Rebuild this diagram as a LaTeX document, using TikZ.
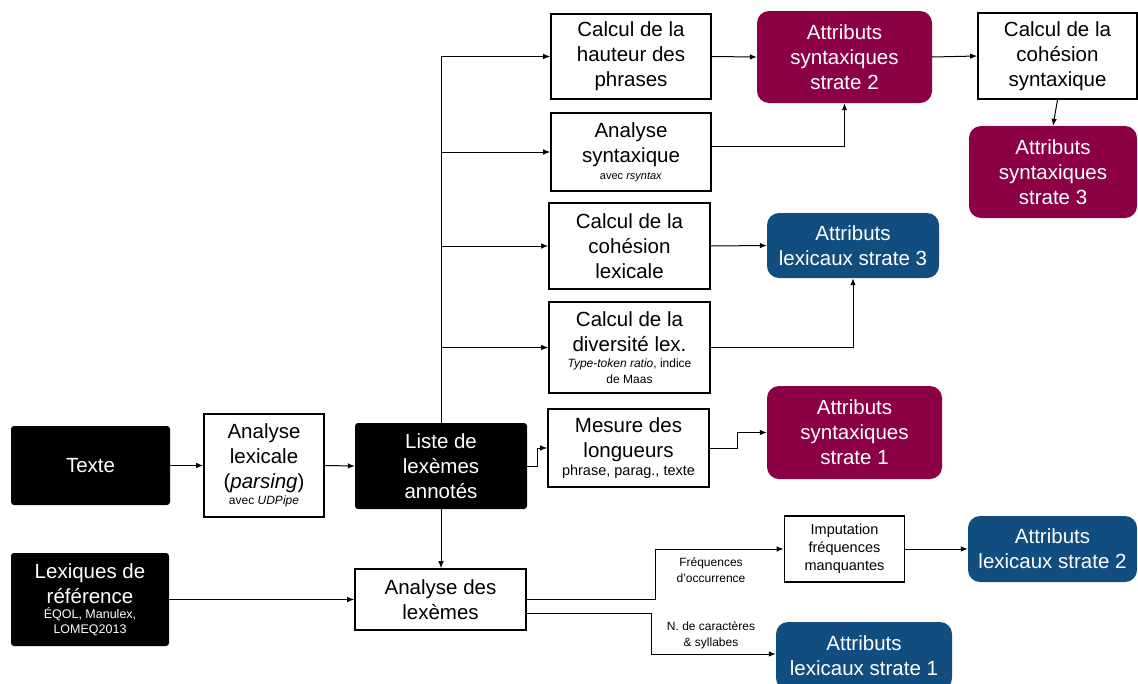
\documentclass[tikz,border=0pt]{standalone}
\usepackage{fontspec}
\setmainfont{Liberation Sans}
\usetikzlibrary{arrows.meta}
\definecolor{crim}{RGB}{140,0,70}
\definecolor{navy}{RGB}{18,77,128}
\newcommand{\bigtxt}{\fontsize{20.5}{25}\selectfont}
\newcommand{\midtxt}{\fontsize{14.5}{18}\selectfont}
\newcommand{\smtxt}{\fontsize{12}{16}\selectfont}
\begin{document}
\begin{tikzpicture}[x=1pt,y=-1pt,
  box/.style={draw=black, line width=1.6pt, fill=white, inner sep=0pt, align=flush center, font=\bigtxt},
  blk/.style={fill=black, text=white, rounded corners=3pt, inner sep=0pt, align=flush center, font=\bigtxt},
  synb/.style={fill=crim, text=white, rounded corners=12pt, inner sep=0pt, align=center, font=\bigtxt},
  lexb/.style={fill=navy, text=white, rounded corners=12pt, inner sep=0pt, align=center, font=\bigtxt},
  arr/.style={line width=1pt, -{Latex[length=7pt,width=5.5pt]}},
  lbl/.style={font=\smtxt, align=center, inner sep=0pt}]
\useasboundingbox (0,0) rectangle (1138,683);

% left column
\node[blk, minimum width=159pt, minimum height=79pt] (texte) at (90.5,465.5) {Texte};
\node[box, minimum width=120pt, minimum height=103pt, text width=116pt] (analex) at (264,465.5)
  {Analyse\\lexicale\\(\textit{parsing})\par{\smtxt avec \textit{UDPipe}\par}};
\node[blk, minimum width=172pt, minimum height=86pt] (liste) at (441,466)
  {Liste de\\lexèmes\\annotés};
\node[blk, minimum width=158pt, minimum height=93pt, text width=154pt] (lexiques) at (90,599.5)
  {Lexiques de\\référence\par{\fontsize{12.5}{15}\selectfont ÉQOL, Manulex,\\LOMEQ2013\par}};
\node[box, minimum width=171pt, minimum height=61pt] (anlex) at (440.5,599.5)
  {Analyse des\\lexèmes};

% middle column
\node[box, minimum width=160pt, minimum height=85pt] (hauteur) at (631,56.5)
  {Calcul de la\\hauteur des\\phrases};
\node[box, minimum width=160pt, minimum height=78pt, text width=156pt] (ansyn) at (631,152)
  {Analyse\\syntaxique\par{\fontsize{11}{17}\selectfont avec \textit{rsyntax}\par}};
\node[box, minimum width=161pt, minimum height=86pt] (cohlex) at (629.5,246)
  {Calcul de la\\cohésion\\lexicale};
\node[box, minimum width=161pt, minimum height=91pt, text width=157pt] (divlex) at (629.5,347.5)
  {Calcul de la\\diversité lex.\par{\smtxt \textit{Type-token ratio}, indice\\de Maas\par}};
\node[box, minimum width=161pt, minimum height=78pt, text width=157pt] (mesure) at (628.5,448)
  {Mesure des\\longueurs\par{\midtxt phrase, parag., texte\par}};

% result nodes
\node[synb, minimum width=175pt, minimum height=92pt] (syn2) at (844.5,57)
  {Attributs\\syntaxiques\\strate 2};
\node[box, minimum width=159pt, minimum height=86pt] (cohsyn) at (1057.5,56)
  {Calcul de la\\cohésion\\syntaxique};
\node[synb, minimum width=168pt, minimum height=92pt] (syn3) at (1053,172)
  {Attributs\\syntaxiques\\strate 3};
\node[lexb, minimum width=172pt, minimum height=65pt] (lex3) at (853,245.5)
  {Attributs\\lexicaux strate 3};
\node[synb, minimum width=175pt, minimum height=93pt] (syn1) at (854.5,432.5)
  {Attributs\\syntaxiques\\strate 1};
\node[box, minimum width=120pt, minimum height=66pt, font=\midtxt] (imput) at (844.5,549)
  {Imputation\\fréquences\\manquantes};
\node[lexb, minimum width=169pt, minimum height=66pt] (lex2) at (1052.5,549)
  {Attributs\\lexicaux strate 2};
\node[lexb, minimum width=176pt, minimum height=68pt] (lex1) at (864,656)
  {Attributs\\lexicaux strate 1};

% labels
\node[lbl] (lfreq) at (711,570) {Fréquences\\d’occurrence};
\node[lbl] (lcar) at (711,635) {N. de caractères\\\& syllabes};

% connectors
\draw[arr] (texte.east) -- (analex.west);
\draw[arr] (analex.east) -- (liste.west);
\draw[arr] (liste.north) |- (hauteur.west);
\draw[arr] (liste.north) |- (ansyn.west);
\draw[arr] (liste.north) |- (cohlex.west);
\draw[arr] (liste.north) |- (divlex.west);
\draw[arr] (liste.south) -- (liste.south |- anlex.north);
\draw[arr] (liste.east) -- ++(10,0) |- (mesure.west);
\draw[arr] (mesure.east) -- ++(28,0) |- (syn1.west);
\draw[arr] (hauteur.east) -- (syn2.west);
\draw[arr] ([yshift=6pt]ansyn.east) -| (syn2.south);
\draw[arr] (syn2.east) -- (cohsyn.west);
\draw[arr] (cohsyn.south) -- (syn3.north);
\draw[arr] (cohlex.east) -- (lex3.west);
\draw[arr] (divlex.east) -| (lex3.south);
\draw[arr] (lexiques.east) -- (anlex.west);
\draw[arr] (anlex.east) -- ++(129,0) |- (imput.west);
\draw[arr] ([yshift=-13.5pt]anlex.east) -- ++(125,0) |- ([yshift=2pt]lex1.west);
\draw[arr] (imput.east) -- (lex2.west);
\end{tikzpicture}
\end{document}
